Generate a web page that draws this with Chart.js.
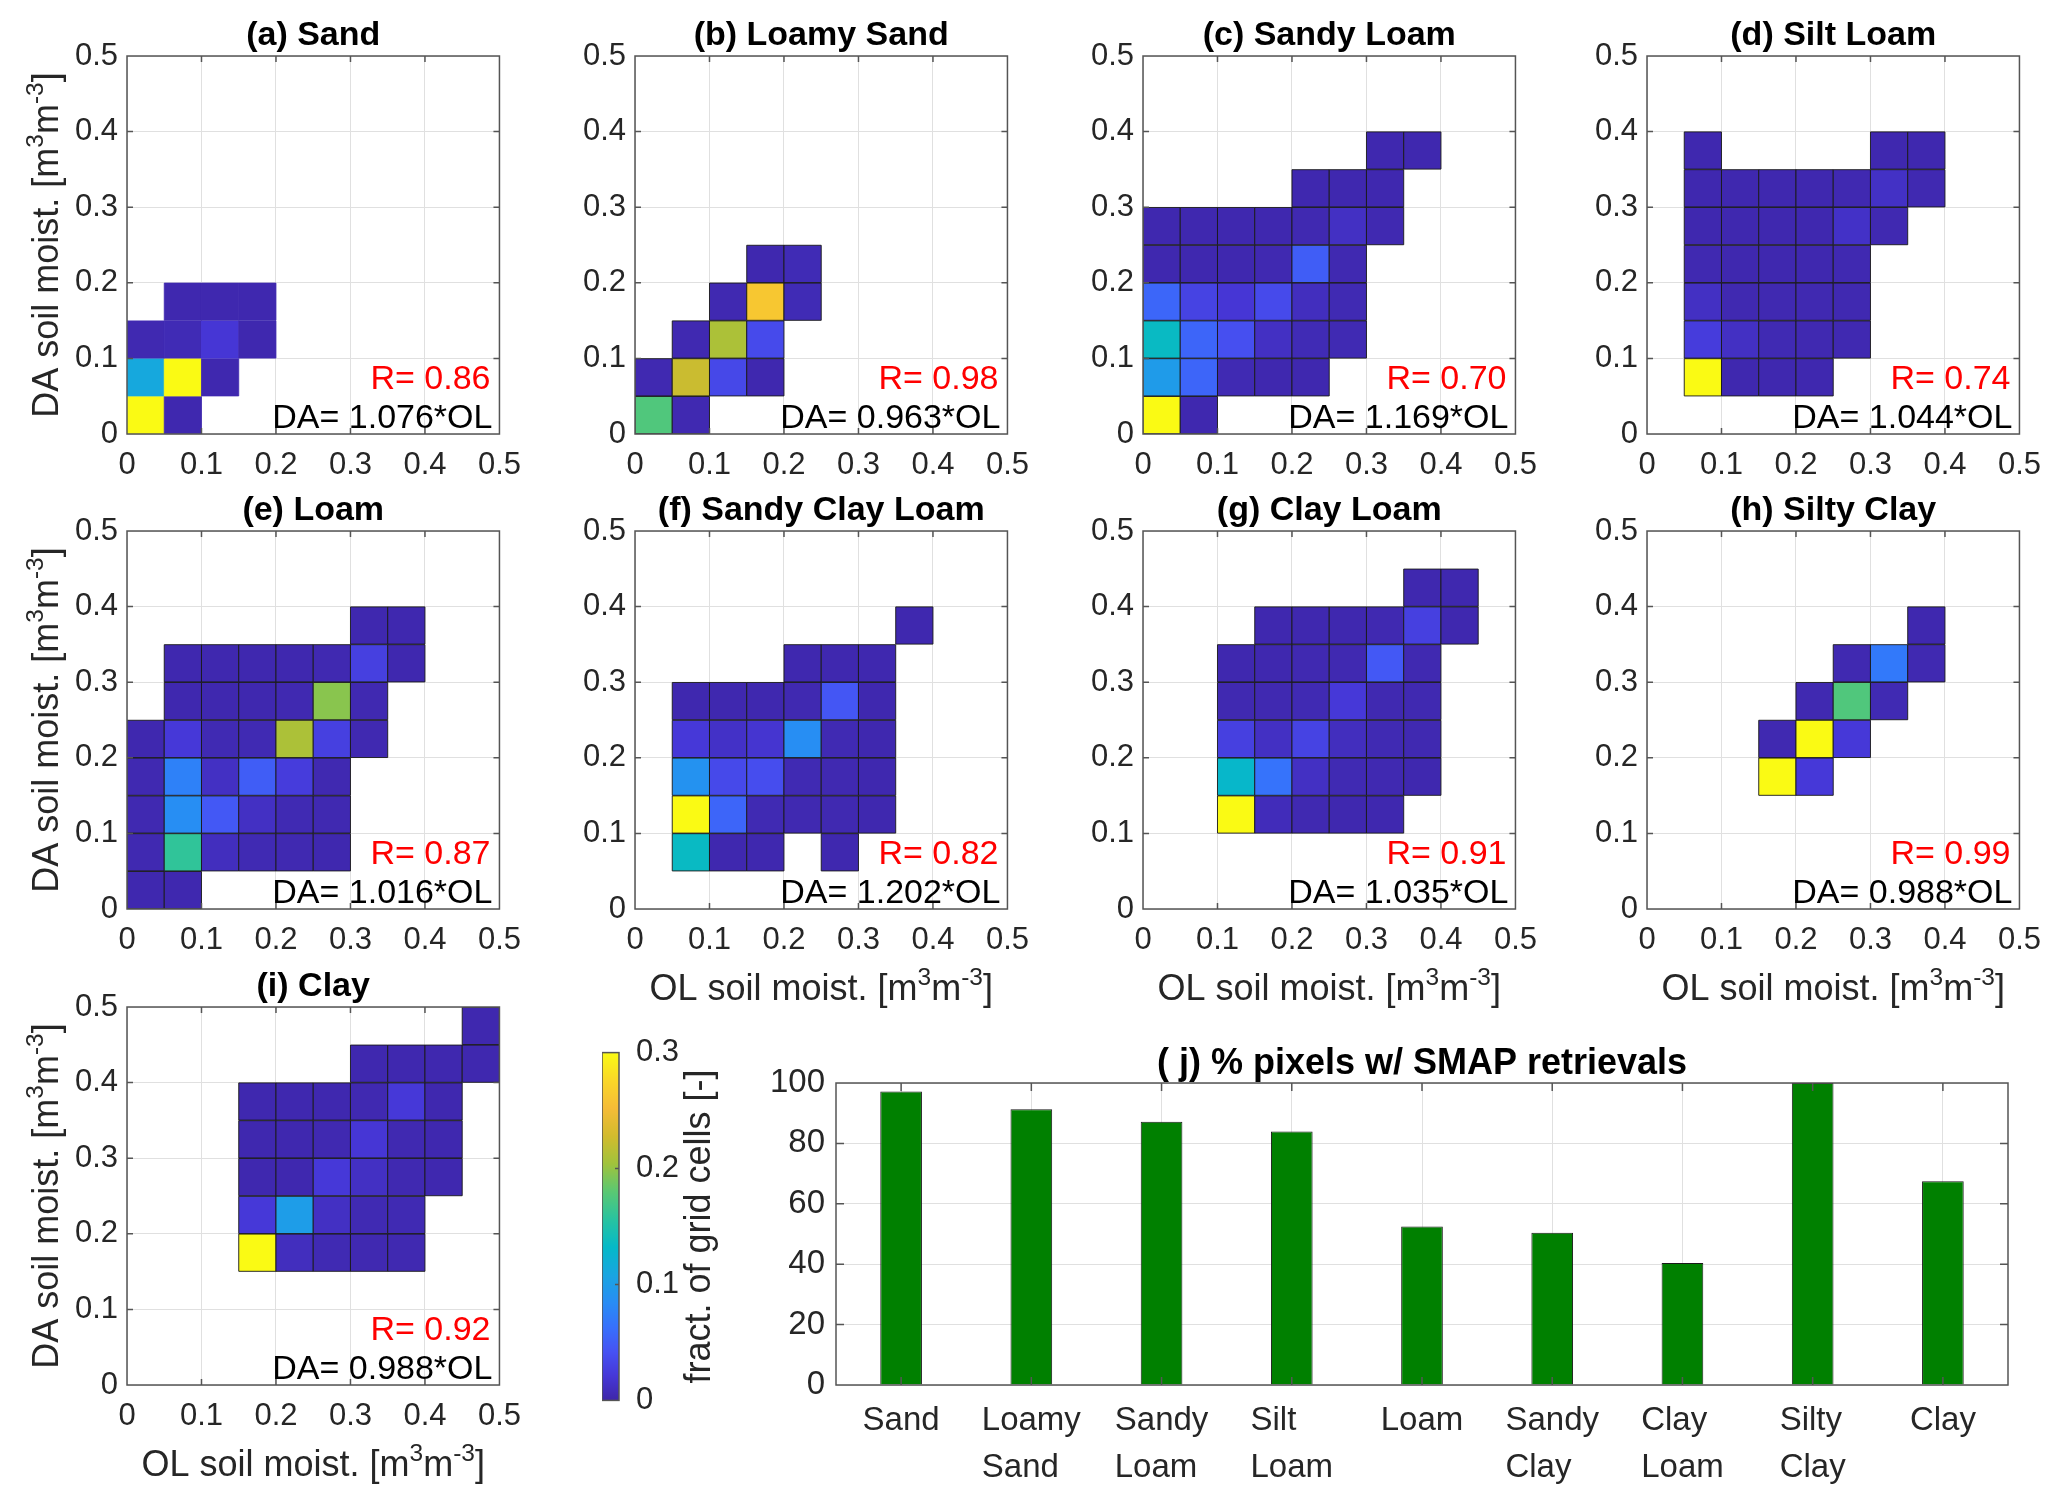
<!DOCTYPE html>
<html>
<head>
<meta charset="utf-8">
<title>DA vs OL soil moisture by soil texture</title>
<script src="https://cdn.jsdelivr.net/npm/chart.js@4.4.1/dist/chart.umd.min.js"></script>
<style>
  html, body { margin: 0; padding: 0; background: #fff; }
  #fig { position: relative; width: 2067px; height: 1506px; overflow: hidden; background: #fff; }
  #fig canvas { position: absolute; }
</style>
</head>
<body>
<div id="fig"></div>
<script>
const BIN = 0.05;   // width of a histogram bin, m3/m3
const CMAX = 0.3;   // top of the colour scale

const panelTitles = ['(a) Sand', '(b) Loamy Sand', '(c) Sandy Loam', '(d) Silt Loam',
  '(e) Loam', '(f) Sandy Clay Loam', '(g) Clay Loam', '(h) Silty Clay', '(i) Clay'];
const rValues = ['0.86', '0.98', '0.70', '0.74', '0.87', '0.82', '0.91', '0.99', '0.92'];
const slopes = ['1.076', '0.963', '1.169', '1.044', '1.016', '1.202', '1.035', '0.988', '0.988'];

// cells: [OL bin index, DA bin index, fraction of grid cells]
const sandCells = [
  [0,0,0.32],[1,0,0.003],
  [0,1,0.112],[1,1,0.31],[2,1,0.003],
  [0,2,0.004],[1,2,0.006],[2,2,0.02],[3,2,0.003],
  [1,3,0.003],[2,3,0.003],[3,3,0.003]
];
const loamySandCells = [
  [0,0,0.175],[1,0,0.004],
  [0,1,0.004],[1,1,0.224],[2,1,0.034],[3,1,0.003],
  [1,2,0.004],[2,2,0.21],[3,2,0.036],
  [2,3,0.004],[3,3,0.262],[4,3,0.006],
  [3,4,0.003],[4,4,0.006]
];
const sandyLoamCells = [
  [0,0,0.32],[1,0,0.003],
  [0,1,0.098],[1,1,0.055],[2,1,0.005],[3,1,0.003],[4,1,0.003],
  [0,2,0.135],[1,2,0.055],[2,2,0.04],[3,2,0.012],[4,2,0.006],[5,2,0.005],
  [0,3,0.056],[1,3,0.03],[2,3,0.02],[3,3,0.036],[4,3,0.01],[5,3,0.005],
  [0,4,0.003],[1,4,0.003],[2,4,0.003],[3,4,0.004],[4,4,0.05],[5,4,0.004],
  [0,5,0.003],[1,5,0.003],[2,5,0.003],[3,5,0.003],[4,5,0.004],[5,5,0.012],[6,5,0.004],
  [4,6,0.003],[5,6,0.003],[6,6,0.003],
  [6,7,0.003],[7,7,0.003]
];
const siltLoamCells = [
  [1,1,0.32],[2,1,0.003],[3,1,0.003],[4,1,0.003],
  [1,2,0.025],[2,2,0.012],[3,2,0.005],[4,2,0.004],[5,2,0.004],
  [1,3,0.012],[2,3,0.004],[3,3,0.004],[4,3,0.004],[5,3,0.004],
  [1,4,0.004],[2,4,0.003],[3,4,0.003],[4,4,0.003],[5,4,0.004],
  [1,5,0.003],[2,5,0.003],[3,5,0.003],[4,5,0.003],[5,5,0.014],[6,5,0.004],
  [1,6,0.003],[2,6,0.003],[3,6,0.003],[4,6,0.003],[5,6,0.004],[6,6,0.013],[7,6,0.004],
  [1,7,0.003],[6,7,0.003],[7,7,0.003]
];
const loamCells = [
  [0,0,0.003],[1,0,0.003],
  [0,1,0.004],[1,1,0.16],[2,1,0.01],[3,1,0.005],[4,1,0.004],[5,1,0.003],
  [0,2,0.004],[1,2,0.086],[2,2,0.046],[3,2,0.012],[4,2,0.005],[5,2,0.004],
  [0,3,0.004],[1,3,0.076],[2,3,0.012],[3,3,0.05],[4,3,0.025],[5,3,0.004],
  [0,4,0.003],[1,4,0.022],[2,4,0.005],[3,4,0.005],[4,4,0.21],[5,4,0.028],[6,4,0.004],
  [1,5,0.003],[2,5,0.003],[3,5,0.003],[4,5,0.004],[5,5,0.196],[6,5,0.004],
  [1,6,0.003],[2,6,0.003],[3,6,0.003],[4,6,0.003],[5,6,0.004],[6,6,0.028],[7,6,0.003],
  [6,7,0.003],[7,7,0.003]
];
const sandyClayLoamCells = [
  [1,1,0.135],[2,1,0.003],[3,1,0.003],[5,1,0.003],
  [1,2,0.32],[2,2,0.055],[3,2,0.005],[4,2,0.004],[5,2,0.004],[6,2,0.003],
  [1,3,0.09],[2,3,0.035],[3,3,0.038],[4,3,0.005],[5,3,0.004],[6,3,0.003],
  [1,4,0.022],[2,4,0.014],[3,4,0.018],[4,4,0.086],[5,4,0.005],[6,4,0.003],
  [1,5,0.003],[2,5,0.003],[3,5,0.003],[4,5,0.004],[5,5,0.045],[6,5,0.003],
  [4,6,0.003],[5,6,0.003],[6,6,0.003],
  [7,7,0.003]
];
const clayLoamCells = [
  [2,2,0.32],[3,2,0.008],[4,2,0.004],[5,2,0.003],[6,2,0.003],
  [2,3,0.13],[3,3,0.065],[4,3,0.012],[5,3,0.005],[6,3,0.004],[7,3,0.003],
  [2,4,0.028],[3,4,0.012],[4,4,0.03],[5,4,0.01],[6,4,0.005],[7,4,0.004],
  [2,5,0.004],[3,5,0.004],[4,5,0.005],[5,5,0.022],[6,5,0.004],[7,5,0.004],
  [2,6,0.003],[3,6,0.003],[4,6,0.004],[5,6,0.004],[6,6,0.046],[7,6,0.004],
  [3,7,0.003],[4,7,0.003],[5,7,0.003],[6,7,0.004],[7,7,0.028],[8,7,0.003],
  [7,8,0.003],[8,8,0.003]
];
const siltyClayCells = [
  [3,3,0.32],[4,3,0.022],
  [3,4,0.004],[4,4,0.31],[5,4,0.022],
  [4,5,0.004],[5,5,0.175],[6,5,0.005],
  [5,6,0.004],[6,6,0.07],[7,6,0.004],
  [7,7,0.003]
];
const clayCells = [
  [3,3,0.32],[4,3,0.01],[5,3,0.005],[6,3,0.004],[7,3,0.004],
  [3,4,0.022],[4,4,0.1],[5,4,0.012],[6,4,0.005],[7,4,0.005],
  [3,5,0.003],[4,5,0.003],[5,5,0.022],[6,5,0.012],[7,5,0.004],[8,5,0.003],
  [3,6,0.003],[4,6,0.003],[5,6,0.004],[6,6,0.02],[7,6,0.004],[8,6,0.003],
  [3,7,0.003],[4,7,0.003],[5,7,0.003],[6,7,0.004],[7,7,0.022],[8,7,0.003],
  [6,8,0.003],[7,8,0.003],[8,8,0.003],[9,8,0.003],
  [9,9,0.003]
];
const panelCells = [sandCells, loamySandCells, sandyLoamCells, siltLoamCells,
  loamCells, sandyClayLoamCells, clayLoamCells, siltyClayCells, clayCells];

const heatTicks = [0, 0.1, 0.2, 0.3, 0.4, 0.5];
const cbarTicks = [0, 0.1, 0.2, 0.3];

const barLabels = [['Sand'], ['Loamy', 'Sand'], ['Sandy', 'Loam'], ['Silt', 'Loam'], ['Loam'],
  ['Sandy', 'Clay'], ['Clay', 'Loam'], ['Silty', 'Clay'], ['Clay']];
const pctRetrievals = [97.2, 91.3, 87.2, 83.9, 52.5, 50.4, 40.4, 100, 67.5];
const barTicks = [0, 20, 40, 60, 80, 100];

// parula-like colour map, position 0..1
const parulaStops = [
  [0.00, [62, 38, 168]], [0.07, [70, 55, 215]], [0.14, [70, 82, 243]],
  [0.21, [55, 112, 252]], [0.28, [40, 140, 245]], [0.36, [25, 165, 225]],
  [0.44, [5, 185, 200]], [0.52, [40, 195, 160]], [0.60, [90, 200, 115]],
  [0.68, [160, 195, 60]], [0.76, [210, 187, 45]], [0.84, [245, 188, 55]],
  [0.92, [250, 215, 40]], [1.00, [250, 250, 20]]
];

const FAMILY = '"Liberation Sans", Arial, Helvetica, sans-serif';
const INK = '#262626';
const AXIS = '#555555';
const GRID = '#e0e0e0';

Chart.defaults.font.family = FAMILY;
Chart.defaults.color = INK;

function parula(v) {
  const t = Math.max(0, Math.min(1, v / CMAX));
  for (let i = 1; i < parulaStops.length; i++) {
    const [t1, c1] = parulaStops[i];
    if (t <= t1) {
      const [t0, c0] = parulaStops[i - 1];
      const f = (t - t0) / (t1 - t0);
      const c = c0.map((a, k) => Math.round(a + (c1[k] - a) * f));
      return `rgb(${c[0]},${c[1]},${c[2]})`;
    }
  }
  return 'rgb(250,250,20)';
}

const fig = document.getElementById('fig');
function makeCanvas(left, top, w, h) {
  const c = document.createElement('canvas');
  c.width = w; c.height = h;
  c.style.left = left + 'px'; c.style.top = top + 'px';
  c.style.width = w + 'px'; c.style.height = h + 'px';
  fig.appendChild(c);
  return c;
}

// text with superscripts, centred on x, baseline y
function drawRich(ctx, parts, x, y, size) {
  const widths = parts.map(([t, sup]) => {
    ctx.font = (sup ? size * 0.68 : size) + 'px ' + FAMILY;
    return ctx.measureText(t).width;
  });
  let cx = x - widths.reduce((a, b) => a + b, 0) / 2;
  ctx.textAlign = 'left';
  ctx.textBaseline = 'alphabetic';
  parts.forEach(([t, sup], i) => {
    ctx.font = (sup ? size * 0.68 : size) + 'px ' + FAMILY;
    ctx.fillText(t, cx, sup ? y - size * 0.42 : y);
    cx += widths[i];
  });
}
function unitParts(prefix) {
  return [[prefix + ' [m', false], ['3', true], ['m', false], ['-3', true], [']', false]];
}

function drawFrame(ctx, a, xs, ys, len) {
  ctx.save();
  ctx.strokeStyle = AXIS;
  ctx.lineWidth = 1.5;
  ctx.beginPath();
  xs.forEach(px => {
    ctx.moveTo(px, a.bottom); ctx.lineTo(px, a.bottom - len);
    ctx.moveTo(px, a.top); ctx.lineTo(px, a.top + len);
  });
  ys.forEach(py => {
    ctx.moveTo(a.left, py); ctx.lineTo(a.left + len, py);
    ctx.moveTo(a.right, py); ctx.lineTo(a.right - len, py);
  });
  ctx.stroke();
  ctx.strokeRect(a.left, a.top, a.right - a.left, a.bottom - a.top);
  ctx.restore();
}

const setTicks = list => scale => { scale.ticks = list.map(v => ({ value: v })); };

// ---------- heat map panels ----------
const COLS = [127, 635, 1143, 1647];
const ROWS = [56, 531, 1007];
const HM = { L: 127, T: 56, W: 379, H: 378, R: 28, B: 118 };

function heatmap(k) {
  const col = k % 4, row = Math.floor(k / 4);
  const c = makeCanvas(COLS[col] - HM.L, ROWS[row] - HM.T, HM.L + HM.W + HM.R, HM.T + HM.H + HM.B);
  const showY = col === 0;
  const showX = row === 2 || (row === 1 && col > 0);

  const decor = {
    id: 'heatDecor',
    afterDraw(chart) {
      const { ctx, chartArea: a, scales: { x, y } } = chart;
      const inner = heatTicks.slice(1, -1);
      drawFrame(ctx, a, inner.map(v => x.getPixelForValue(v)), inner.map(v => y.getPixelForValue(v)), 6);
      ctx.save();
      ctx.fillStyle = '#000';
      ctx.textBaseline = 'alphabetic';
      ctx.textAlign = 'center';
      ctx.font = 'bold 34px ' + FAMILY;
      ctx.fillText(panelTitles[k], (a.left + a.right) / 2, a.top - 11);
      ctx.textAlign = 'right';
      ctx.font = '34px ' + FAMILY;
      ctx.fillStyle = '#ff0000';
      ctx.fillText('R= ' + rValues[k], a.right - 9, a.bottom - 45);
      ctx.fillStyle = '#000';
      ctx.fillText('DA= ' + slopes[k] + '*OL', a.right - 7, a.bottom - 6);
      ctx.fillStyle = INK;
      if (showX) drawRich(ctx, unitParts('OL soil moist.'), (a.left + a.right) / 2, a.bottom + 91, 36);
      if (showY) {
        ctx.translate(58, (a.top + a.bottom) / 2);
        ctx.rotate(-Math.PI / 2);
        drawRich(ctx, unitParts('DA soil moist.'), 0, 0, 36);
      }
      ctx.restore();
    }
  };

  const axis = (fit) => ({
    type: 'linear', min: 0, max: 0.5,
    afterBuildTicks: setTicks(heatTicks),
    afterFit: fit,
    grid: { color: GRID, drawTicks: false },
    border: { display: false },
    ticks: { font: { size: 31 }, color: INK, maxRotation: 0, autoSkip: false }
  });
  const xAxis = axis(s => { s.height = HM.B; });
  xAxis.ticks.padding = 13;
  const yAxis = axis(s => { s.width = HM.L; });
  yAxis.ticks.padding = 9;

  const plain = k === 0;   // panel (a) is drawn without cell edges
  new Chart(c, {
    type: 'scatter',
    data: {
      datasets: [{
        data: panelCells[k].map(([i, j, v]) => ({ x: (i + 0.5) * BIN, y: (j + 0.5) * BIN, v })),
        pointStyle: 'rect',
        pointRadius: ctx => {
          const s = ctx.chart.scales.x;
          return (s.getPixelForValue(BIN) - s.getPixelForValue(0)) / Math.SQRT2;
        },
        backgroundColor: ctx => parula(ctx.raw ? ctx.raw.v : 0),
        borderColor: plain ? (ctx => parula(ctx.raw ? ctx.raw.v : 0)) : 'rgba(25,25,25,0.9)',
        borderWidth: plain ? 0.8 : 1
      }]
    },
    options: {
      responsive: false, animation: false, events: [],
      layout: { padding: { top: HM.T, right: HM.R, left: 0, bottom: 0 } },
      plugins: { legend: { display: false }, tooltip: { enabled: false } },
      scales: { x: xAxis, y: yAxis }
    },
    plugins: [decor]
  });
}
panelCells.forEach((_, k) => heatmap(k));

// ---------- colour bar ----------
(function colorbar() {
  const top = 1045, h = 363, w = 17, pad = 20, axisW = 140;
  const c = makeCanvas(602, top - pad, w + axisW, h + 2 * pad);
  const decor = {
    id: 'cbarDecor',
    afterDraw(chart) {
      const { ctx, chartArea: a, scales: { y } } = chart;
      const g = ctx.createLinearGradient(0, y.getPixelForValue(0), 0, y.getPixelForValue(CMAX));
      parulaStops.forEach(([t, col]) => g.addColorStop(t, `rgb(${col[0]},${col[1]},${col[2]})`));
      ctx.save();
      ctx.fillStyle = g;
      ctx.fillRect(a.left, a.top, a.right - a.left, a.bottom - a.top);
      ctx.strokeStyle = AXIS;
      ctx.lineWidth = 1.5;
      ctx.beginPath();
      cbarTicks.slice(1, -1).forEach(v => {
        const py = y.getPixelForValue(v);
        ctx.moveTo(a.right, py); ctx.lineTo(a.right - 4, py);
      });
      ctx.stroke();
      ctx.strokeRect(a.left, a.top, a.right - a.left, a.bottom - a.top);
      ctx.fillStyle = INK;
      ctx.font = '36px ' + FAMILY;
      ctx.textAlign = 'center';
      ctx.textBaseline = 'alphabetic';
      ctx.translate(108, (a.top + a.bottom) / 2);
      ctx.rotate(-Math.PI / 2);
      ctx.fillText('fract. of grid cells [-]', 0, 0);
      ctx.restore();
    }
  };
  new Chart(c, {
    type: 'scatter',
    data: { datasets: [] },
    options: {
      responsive: false, animation: false, events: [],
      layout: { padding: { top: pad, bottom: pad, left: 0, right: 0 } },
      plugins: { legend: { display: false }, tooltip: { enabled: false } },
      scales: {
        x: { display: false, min: 0, max: 1 },
        y: {
          position: 'right', min: 0, max: CMAX,
          afterBuildTicks: setTicks(cbarTicks),
          afterFit: s => { s.width = axisW; },
          grid: { display: false }, border: { display: false },
          ticks: { font: { size: 31 }, padding: 9, color: INK }
        }
      }
    },
    plugins: [decor]
  });
})();

// ---------- bar chart (j) ----------
(function barChart() {
  const L = 100, T = 70, W = 1172, H = 302, R = 30, B = 121;
  const c = makeCanvas(836 - L, 1083 - T, L + W + R, T + H + B);
  const decor = {
    id: 'barDecor',
    afterDraw(chart) {
      const { ctx, chartArea: a, scales: { x, y } } = chart;
      const xs = chart.data.labels.map((_, i) => x.getPixelForTick(i));
      drawFrame(ctx, a, xs, barTicks.slice(1, -1).map(v => y.getPixelForValue(v)), 8);
      ctx.save();
      ctx.fillStyle = '#000';
      ctx.textAlign = 'center';
      ctx.textBaseline = 'alphabetic';
      ctx.font = 'bold 36px ' + FAMILY;
      ctx.fillText('( j) % pixels w/ SMAP retrievals', (a.left + a.right) / 2, a.top - 9);
      ctx.fillStyle = INK;
      ctx.font = '33px ' + FAMILY;
      ctx.textAlign = 'left';
      chart.data.labels.forEach((lines, i) => {
        const wMax = Math.max(...lines.map(t => ctx.measureText(t).width));
        lines.forEach((t, n) => ctx.fillText(t, xs[i] - wMax / 2, a.bottom + 45 + n * 47));
      });
      ctx.restore();
    }
  };
  new Chart(c, {
    type: 'bar',
    data: {
      labels: barLabels,
      datasets: [{
        data: pctRetrievals,
        backgroundColor: '#008000',
        borderColor: '#1a1a1a',
        borderWidth: 1,
        categoryPercentage: 1,
        barPercentage: 0.32
      }]
    },
    options: {
      responsive: false, animation: false, events: [],
      layout: { padding: { top: T, right: R, left: 0, bottom: 0 } },
      plugins: { legend: { display: false }, tooltip: { enabled: false } },
      scales: {
        x: {
          offset: true,
          grid: { offset: false, color: GRID, drawTicks: false },
          border: { display: false },
          ticks: { display: false },
          afterFit: s => { s.height = B; }
        },
        y: {
          min: 0, max: 100,
          afterBuildTicks: setTicks(barTicks),
          afterFit: s => { s.width = L; },
          grid: { color: GRID, drawTicks: false },
          border: { display: false },
          ticks: { font: { size: 33 }, padding: 11, color: INK }
        }
      }
    },
    plugins: [decor]
  });
})();
</script>
</body>
</html>
